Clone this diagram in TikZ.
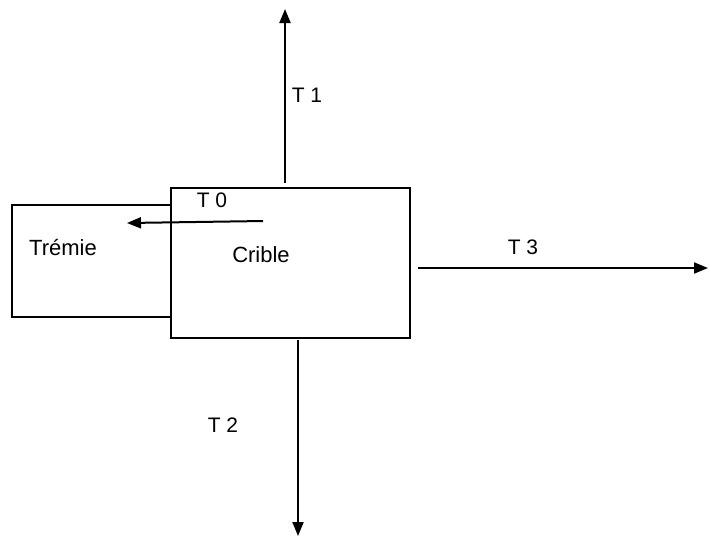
\documentclass[tikz,border=0pt]{standalone}
\usepackage{fontspec}
\setmainfont{Liberation Sans}
\usetikzlibrary{arrows.meta}
\begin{document}
\begin{tikzpicture}[x=0.5pt, y=-0.5pt,
      every node/.style={font=\fontsize{10.5}{12}\selectfont, inner sep=0pt},
      caja/.style={draw, line width=1pt, outer sep=0pt},
      nombre/.style={font=\fontsize{11}{13}\selectfont},
      flujo/.style={-{Triangle[length=7pt, width=5.5pt]}, line width=1pt}
    ]
    \useasboundingbox (0,0) rectangle (710,538);
    % Cajas de la tolva y de la criba
    \node[caja, minimum width=79.5pt, minimum height=56pt] (tremie) at (91.5,261) {};
    \node[caja, minimum width=119.5pt, minimum height=75pt] (crible) at (290.5,263) {};
    \node[nombre] (ntremie) at (63,247) {Trémie};
    \node[nombre] (ncrible) at (261,255) {Crible};
    % Extremos libres de los flujos
    \coordinate (t0a) at (263,221);
    \coordinate (t0b) at (127,223);
    \coordinate (t1a) at (285,183);
    \coordinate (t1b) at (285,9);
    \coordinate (t2a) at (298,340);
    \coordinate (t2b) at (298,536);
    \coordinate (t3a) at (418,268);
    \coordinate (t3b) at (708,268);
    % Flujos con sus etiquetas
    \draw[flujo] (t0a) -- (t0b);
    \draw[flujo] (t1a) -- (t1b);
    \draw[flujo] (t2a) -- (t2b);
    \draw[flujo] (t3a) -- (t3b);
    \node (l0) at (212,200) {T 0};
    \node (l1) at (307,95) {T 1};
    \node (l2) at (223,425) {T 2};
    \node (l3) at (523,247) {T 3};
  \end{tikzpicture}
\end{document}
